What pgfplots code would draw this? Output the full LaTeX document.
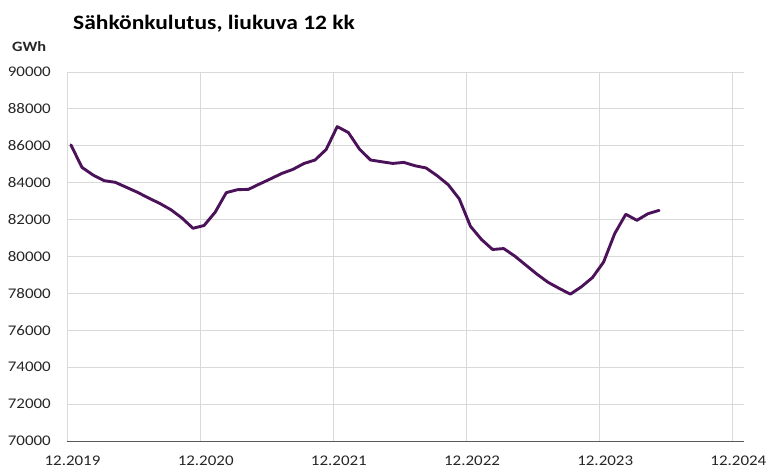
\documentclass[border=0pt]{standalone}
\usepackage{pgfplots}
\pgfplotsset{compat=1.18}
\usepackage{fontspec}
\setmainfont{Carlito}[FakeStretch=1.15]
\definecolor{linec}{HTML}{4B1159}
\definecolor{gridc}{HTML}{D9D9D9}
\definecolor{axc}{HTML}{595959}
\pgfplotstableread{
x y
0.35 86050
1.35 84830
2.35 84415
3.35 84110
4.35 84020
5.35 83750
6.35 83480
7.35 83170
8.35 82880
9.35 82540
10.35 82090
11.35 81530
12.35 81680
13.35 82400
14.35 83460
15.35 83620
16.35 83640
17.35 83930
18.35 84210
19.35 84500
20.35 84720
21.35 85040
22.35 85230
23.35 85800
24.35 87040
25.35 86720
26.35 85820
27.35 85230
28.35 85135
29.35 85045
30.35 85100
31.35 84920
32.35 84800
33.35 84380
34.35 83890
35.35 83120
36.35 81640
37.35 80920
38.35 80380
39.35 80430
40.35 80020
41.35 79530
42.35 79040
43.35 78600
44.35 78270
45.35 77960
46.35 78360
47.35 78860
48.35 79700
49.35 81240
50.35 82290
51.35 81960
52.35 82320
53.35 82500
}\datatable
\begin{document}
\begin{tikzpicture}
\path[use as bounding box] (-67bp,-29bp) rectangle (700bp,441bp);
\begin{axis}[
  at={(0,0)}, anchor=south west,
  scale only axis,
  width=677bp, height=369bp,
  xmin=0, xmax=61,
  ymin=70000, ymax=90000,
  xtick={0,12,24,36,48,60},
  xticklabels={12.2019,12.2020,12.2021,12.2022,12.2023,12.2024},
  ytick={70000,72000,...,90000},
  /pgf/number format/fixed,
  /pgf/number format/1000 sep={},
  scaled y ticks=false,
  /pgf/number format/assume math mode=true,
  xmajorgrids, ymajorgrids,
  grid style={gridc, line width=0.9bp},
  axis line style={draw=none},
  axis x line*=bottom,
  axis y line*=left,
  major tick length=0pt,
  tick label style={font=\fontsize{14.8}{18}\selectfont, text=black!85},
  yticklabel style={anchor=east, inner sep=0pt, xshift=-16bp},
  xticklabel style={anchor=north, inner sep=0pt, yshift=-15bp, xshift=5.5bp},
  clip=false,
]
\addplot[linec, line width=2.9bp, line join=round, line cap=round] table[x=x,y=y] {\datatable};
\draw[axc, line width=1bp] (axis cs:0,70000) -- (axis cs:61,70000);
\end{axis}
\node[anchor=base west, inner sep=0pt, font=\fontsize{20.5}{24}\selectfont\bfseries] at (6bp,411bp) {Sähkönkulutus, liukuva 12 kk};
\node[anchor=base west, inner sep=0pt, font=\fontsize{14.3}{18}\selectfont\bfseries, text=black!85] at (-55bp,389bp) {GWh};
\end{tikzpicture}
\end{document}
